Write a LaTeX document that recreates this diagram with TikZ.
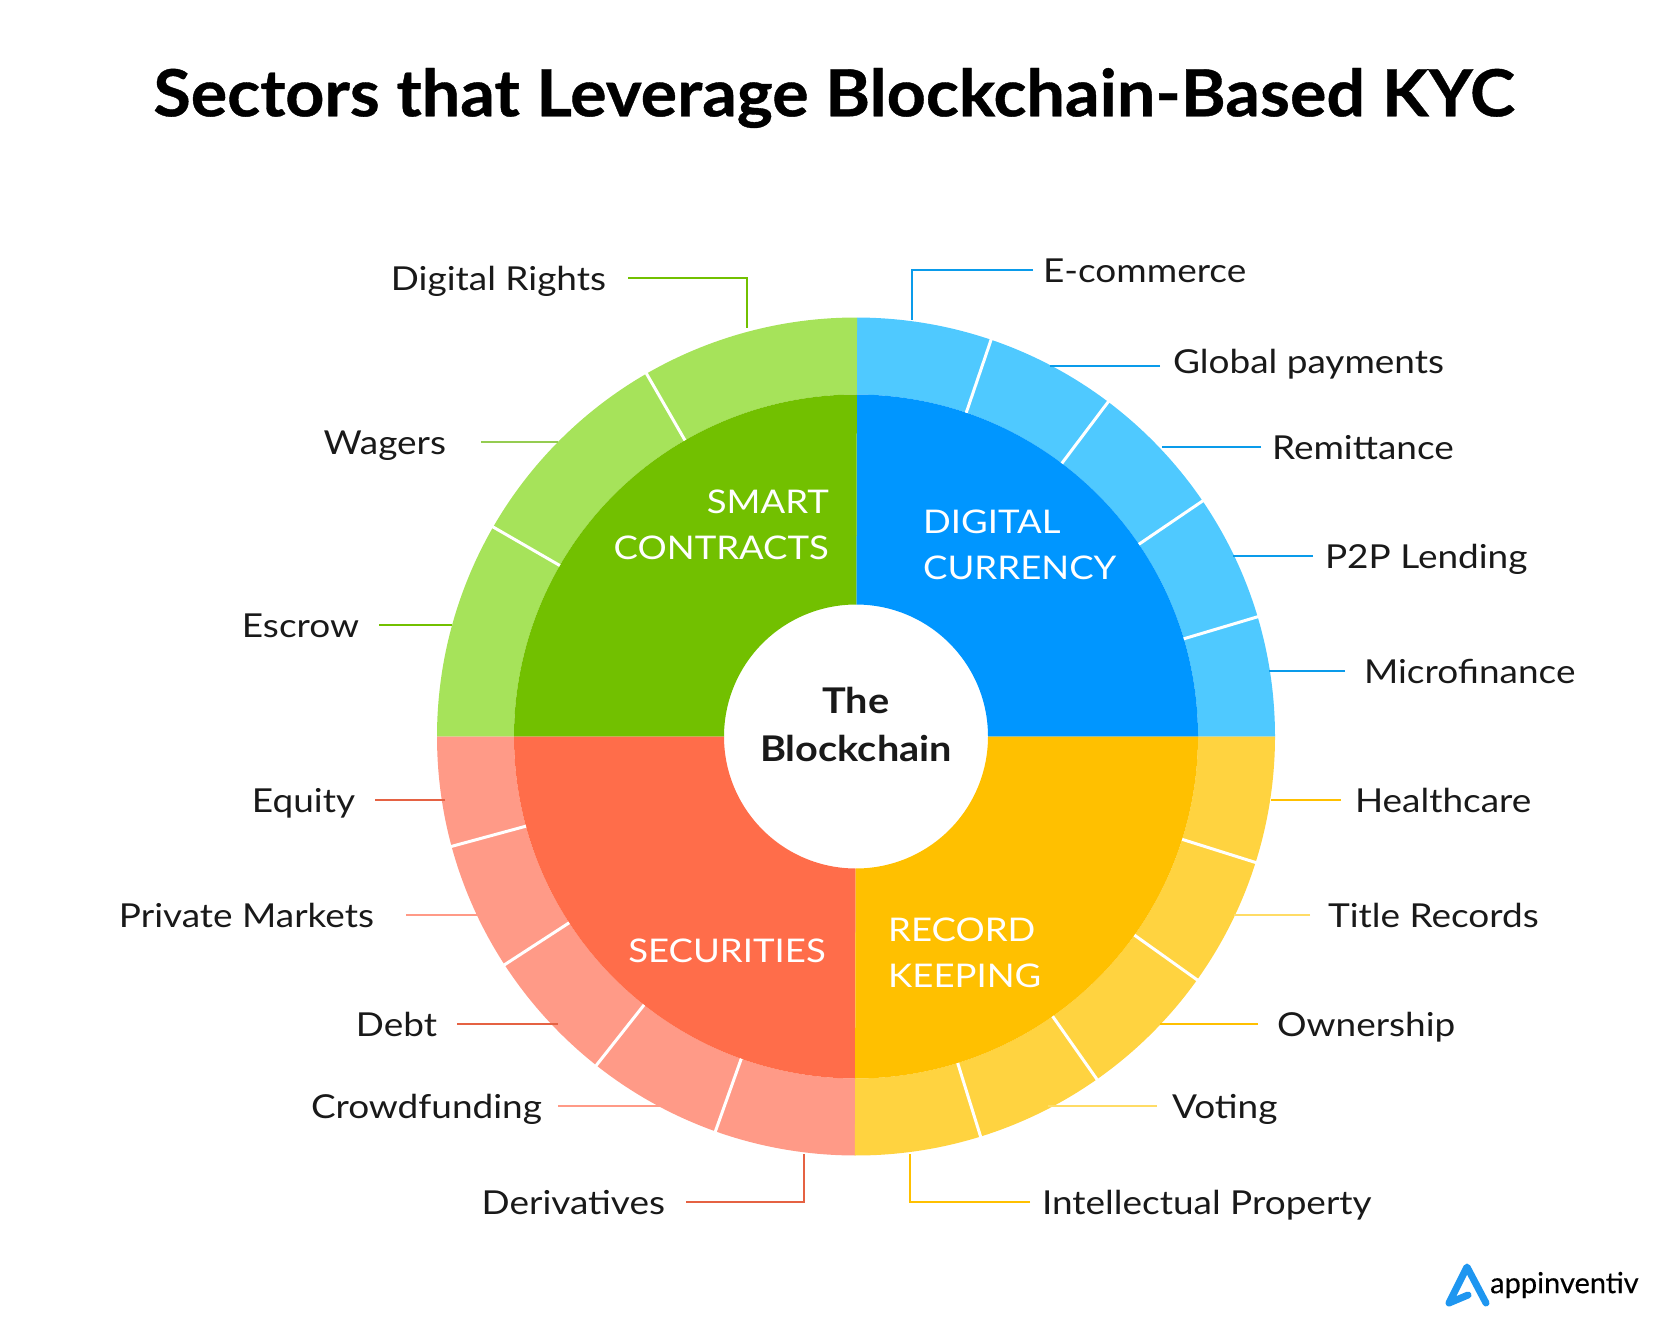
\documentclass[tikz,border=0pt]{standalone}
\usepackage{fontspec}
\usepackage{xcolor}
\setmainfont[FakeStretch=1.12]{Lato}
\newfontfamily\headfont[FakeStretch=1.05,BoldFeatures={FakeBold=0.6}]{Lato}
\newfontfamily\brandfont[FakeBold=0.3]{Lato}
\usetikzlibrary{calc,positioning}
\definecolor{bluedark}{HTML}{0096FF}
\definecolor{bluelight}{HTML}{4FC9FF}
\definecolor{blueline}{HTML}{0A9BEA}
\definecolor{greendark}{HTML}{72C000}
\definecolor{greenlight}{HTML}{A6E35A}
\definecolor{reddark}{HTML}{FF6D4A}
\definecolor{redlight}{HTML}{FF9A87}
\definecolor{amberdark}{HTML}{FFC000}
\definecolor{amberlight}{HTML}{FFD340}
\definecolor{logoblue}{HTML}{1E96F0}
\newcommand{\ringsec}[5]{\fill[#5] ([shift=(#1:#3pt)]c) arc[start angle=#1,end angle=#2,radius=#3pt] -- ([shift=(#2:#4pt)]c) arc[start angle=#2,end angle=#1,radius=#4pt] -- cycle;}

\begin{document}
\begin{tikzpicture}[x=1pt,y=-1pt]
    \tikzstyle{lbl}=[inner ysep=0pt,outer sep=0pt,text height=24pt,text depth=0pt,text=black!90,font=\fontsize{33}{40}\selectfont]
    \tikzstyle{lleft}=[lbl,anchor=east]
    \tikzstyle{lright}=[lbl,anchor=west]
    \tikzstyle{sect}=[text=white,font=\fontsize{32.6}{46}\selectfont,inner sep=0pt]
    \tikzstyle{bluel}=[color=blueline,line width=1.7pt]
    \tikzstyle{greenl}=[color=greendark,line width=1.7pt]
    \tikzstyle{greenp}=[color=greenlight!90!black,line width=1.7pt]
    \tikzstyle{redl}=[color=reddark!90!black,line width=1.7pt]
    \tikzstyle{redp}=[color=redlight,line width=2pt]
    \tikzstyle{amberl}=[color=amberdark,line width=1.7pt]
    \tikzstyle{amberp}=[color=amberlight!80!white,line width=2pt]
    \useasboundingbox (0,0) rectangle (1668,1333);
    \coordinate (c) at (856,736.5);

    \node[font=\headfont\fontsize{65}{70}\bfseries\selectfont,text=black,inner sep=0pt] (title) at (834,98) {Sectors that Leverage Blockchain-Based KYC};

    \ringsec{0}{89.86}{419}{342}{bluelight}
    \ringsec{89.86}{180}{419}{342}{greenlight}
    \ringsec{180}{269.85}{419}{342}{redlight}
    \ringsec{269.85}{360}{419}{342}{amberlight}
    \ringsec{0}{89.86}{342}{132}{bluedark}
    \ringsec{89.86}{180}{342}{132}{greendark}
    \ringsec{180}{269.85}{342}{132}{reddark}
    \ringsec{269.85}{360}{342}{132}{amberdark}
    \foreach \a in {71.2,53,34.2,16.6,120,150,195.2,213,231.7,250.4,-17.5,-35.5,-54.9,-72.7}
      \draw[white,line width=3pt] ([shift=(\a:342pt)]c) -- ([shift=(\a:421pt)]c);

    \node[font=\fontsize{35.4}{48}\bfseries\selectfont,align=center,text=black!90,inner sep=0pt] (hub) at (856,724) {The\\Blockchain};
    \node[sect,align=right,anchor=east] (smart) at (829,525) {SMART\\CONTRACTS};
    \node[sect,align=left,anchor=west] (digital) at (923,545) {DIGITAL\\CURRENCY};
    \node[sect] (secur) at (727,951) {SECURITIES};
    \node[sect,align=left,anchor=west] (record) at (888,953) {RECORD\\KEEPING};

    \node[lleft,inner xsep=22pt] (rights) at (628,278) {Digital Rights};
    \node[lleft,inner xsep=35pt] (wagers) at (481,442) {Wagers};
    \node[lleft,inner xsep=20pt] (escrow) at (379,625) {Escrow};
    \node[lleft,inner xsep=20pt] (equity) at (375,800) {Equity};
    \node[lleft,inner xsep=32pt] (private) at (406,915) {Private Markets};
    \node[lleft,inner xsep=20pt] (debt) at (457,1024) {Debt};
    \node[lleft,inner xsep=16pt] (crowd) at (558,1106) {Crowdfunding};
    \node[lleft,inner xsep=21pt] (deriv) at (686,1202) {Derivatives};

    \node[lright,inner xsep=10pt] (ecomm) at (1033,270) {E-commerce};
    \node[lright,inner xsep=13pt] (global) at (1160,361) {Global payments};
    \node[lright,inner xsep=11pt] (remit) at (1261,447) {Remittance};
    \node[lright,inner xsep=12pt] (lending) at (1313,556) {P2P Lending};
    \node[lright,inner xsep=19pt] (micro) at (1345,671) {Microfinance};
    \node[lright,inner xsep=14pt] (health) at (1341,800) {Healthcare};
    \node[lright,inner xsep=18pt] (records) at (1310,915) {Title Records};
    \node[lright,inner xsep=19pt] (owner) at (1258,1024) {Ownership};
    \node[lright,inner xsep=15pt] (voting) at (1157,1106) {Voting};
    \node[lright,inner xsep=12pt] (ipr) at (1030,1202) {Intellectual Property};

    \coordinate (rrights) at (747,328);
    \coordinate (rwagers) at (558,442);
    \coordinate (rescrow) at (452,625);
    \coordinate (requity) at (445,800);
    \coordinate (rprivate) at (482,915);
    \coordinate (rdebt) at (558,1024);
    \coordinate (rcrowd) at (665,1106);
    \coordinate (rderiv) at (804,1154);
    \coordinate (recomm) at (912,320);
    \coordinate (rglobal) at (1050,366);
    \coordinate (rremit) at (1162,447);
    \coordinate (rlending) at (1233,556);
    \coordinate (rmicro) at (1269,671);
    \coordinate (rhealth) at (1271,800);
    \coordinate (rrecords) at (1234,915);
    \coordinate (rowner) at (1160,1024);
    \coordinate (rvoting) at (1048,1106);
    \coordinate (ripr) at (910,1154);

    \draw[greenl] (rights.east) -| (rrights);
    \draw[greenp] (wagers.east) -- (rwagers);
    \draw[greenl] (escrow.east) -- (rescrow);
    \draw[redl] (equity.east) -- (requity);
    \draw[redp] (private.east) -- (rprivate);
    \draw[redl] (debt.east) -- (rdebt);
    \draw[redp] (crowd.east) -- (rcrowd);
    \draw[redl] (deriv.east) -| (rderiv);
    \draw[bluel] (ecomm.west) -| (recomm);
    \draw[bluel] ([yshift=-5pt]global.west) -- (rglobal);
    \draw[bluel] (remit.west) -- (rremit);
    \draw[bluel] (lending.west) -- (rlending);
    \draw[bluel] (micro.west) -- (rmicro);
    \draw[amberl] (health.west) -- (rhealth);
    \draw[amberp] (records.west) -- (rrecords);
    \draw[amberl] (owner.west) -- (rowner);
    \draw[amberp] (voting.west) -- (rvoting);
    \draw[amberl] (ipr.west) -| (ripr);

    \draw[logoblue,line width=7pt,line cap=round,line join=round] (1468,1295) -- (1449,1303) -- (1467,1267) -- (1486,1303);
    \node[anchor=west,inner sep=0pt,font=\brandfont\fontsize{29}{36}\selectfont,text=black] (brand) at (1490,1285) {appinventiv};
  \end{tikzpicture}
\end{document}
